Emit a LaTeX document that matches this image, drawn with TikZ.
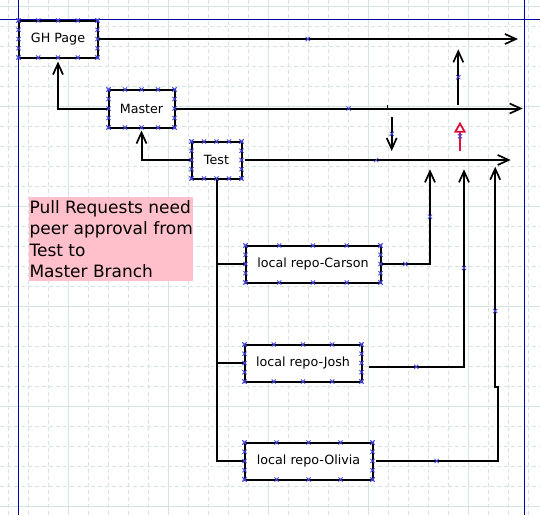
\documentclass[tikz,border=0pt]{standalone}
\usepackage{fontspec}
\setmainfont{DejaVu Sans}
\usetikzlibrary{arrows.meta,calc,shapes.misc}
\definecolor{gridc}{RGB}{212,228,224}
\definecolor{navyc}{RGB}{0,0,160}
\definecolor{markc}{RGB}{70,70,230}
\definecolor{redc}{RGB}{220,20,60}
\definecolor{pinkc}{RGB}{255,192,203}
\begin{document}
\begin{tikzpicture}[x=1pt,y=-1pt,
  minorgrid/.style={draw=gridc,line width=0.8pt,dash pattern=on 4pt off 3pt},
  majorgrid/.style={draw=gridc,line width=0.9pt},
  guide/.style={draw=navyc,line width=1.1pt},
  box/.style={draw=black,line width=2pt,fill=white,inner sep=0pt,outer sep=0pt,font=\fontsize{12.7}{15}\selectfont},
  conn/.style={draw=black,line width=2pt},
  arr/.style={conn,-{Straight Barb[length=11pt,width=10pt,line width=1.7pt]}},
  redarr/.style={draw=redc,line width=2pt,-{Triangle[open,length=11pt,width=12pt,line width=1.8pt]}},
  mk/.style={cross out,draw=markc,line width=0.8pt,minimum size=3.4pt,inner sep=0pt},
  note/.style={fill=pinkc,inner sep=0pt,align=left,font=\fontsize{17}{21.3}\selectfont,minimum width=164pt,minimum height=84pt}
]
\useasboundingbox[fill=white] (0,0) rectangle (540,515);
% grid
\foreach \x in {8,28,...,528} \draw[minorgrid] (\x,0) -- (\x,515);
\foreach \y in {6,26,...,506} \draw[minorgrid] (0,\y) -- (540,\y);
\foreach \x in {68,168,268,368,468} \draw[majorgrid] (\x,0) -- (\x,515);
\foreach \y in {6,106,206,306,406,506} \draw[majorgrid] (0,\y) -- (540,\y);
% guides
\draw[guide] (18.3,0) -- (18.3,515);
\draw[guide] (524.3,0) -- (524.3,515);
\draw[guide] (0,19.3) -- (540,19.3);

% boxes
\node[box,minimum width=79pt,minimum height=37pt] (gh) at (58,39) {GH Page};
\node[box,minimum width=66pt,minimum height=38pt] (master) at (141.5,108.5) {Master};
\node[box,minimum width=50pt,minimum height=37pt] (test) at (216.5,160) {Test};
\node[box,minimum width=135pt,minimum height=37pt] (carson) at (313,264) {local repo-Carson};
\node[box,minimum width=117pt,minimum height=37pt] (josh) at (303,363) {local repo-Josh};
\node[box,minimum width=128pt,minimum height=37pt] (olivia) at (308.5,461) {local repo-Olivia};

\node[note,anchor=north west] (note) at (29,197) {Pull Requests need\\peer approval from\\Test to\\Master Branch};

% free ends
\coordinate (ghEnd) at (518,39);
\coordinate (mEnd) at (522.7,108.5);
\coordinate (tEnd) at (510.7,160);
\coordinate (cEnd) at (430,169.3);
\coordinate (jEnd) at (464,169.3);
\coordinate (oC1) at (497.7,461);
\coordinate (oC2) at (497.7,387);
\coordinate (oC3) at (495.2,387);
\coordinate (oEnd) at (495.2,166.7);
\coordinate (u1) at (458.3,105);
\coordinate (u2) at (458.3,49.3);
\coordinate (d1) at (391.7,116.7);
\coordinate (d2) at (391.7,151);
\coordinate (r1) at (460,150.7);
\coordinate (r2) at (460,121.7);
\coordinate (k1) at (387.7,104.8);
\coordinate (k2) at (387.7,108);

% connectors
\draw[arr] (gh.east) -- node[mk,pos=0.5]{} (ghEnd);
\draw[arr] (master.east) -- node[mk,pos=0.5]{} (mEnd);
\draw[arr,shorten >=4pt] (master.west) -| (gh.south);
\draw[arr,shorten >=3pt] (test.west) -| (master.south);
\draw[arr,shorten <=3pt] (test.east) -- node[mk,pos=0.5]{} (tEnd);
\draw[conn] (test.south) |- (carson.west);
\draw[conn] (test.south) |- (josh.west);
\draw[conn] (test.south) |- (olivia.west);
\draw[arr] (carson.east) -| node[mk,pos=0.25]{} node[mk,pos=0.75]{} (cEnd);
\draw[arr] ([shift={(7,3.7)}]josh.east) -| node[mk,pos=0.25]{} node[mk,pos=0.75]{} (jEnd);
\draw[arr] ([xshift=3pt]olivia.east) -- node[mk,pos=0.5]{} (oC1) -- (oC2) -- (oC3) -- node[mk,pos=0.345]{} (oEnd);
\draw[arr] (u1) -- node[mk,pos=0.5]{} (u2);
\draw[arr] (d1) -- node[mk,pos=0.5]{} (d2);
\draw[redarr] (r1) -- node[mk,pos=0.5]{} (r2);
\draw[line width=0.8pt] (k1) -- (k2);

% box handles
\foreach \n in {gh,master,test,carson,josh,olivia}{
  \foreach \f in {0,0.25,0.5,0.75,1}{
    \node[mk] at ($(\n.north west)!\f!(\n.north east)$) {};
    \node[mk] at ($(\n.south west)!\f!(\n.south east)$) {};
    \node[mk] at ($(\n.north west)!\f!(\n.south west)$) {};
    \node[mk] at ($(\n.north east)!\f!(\n.south east)$) {};
  }
}
\end{tikzpicture}
\end{document}
